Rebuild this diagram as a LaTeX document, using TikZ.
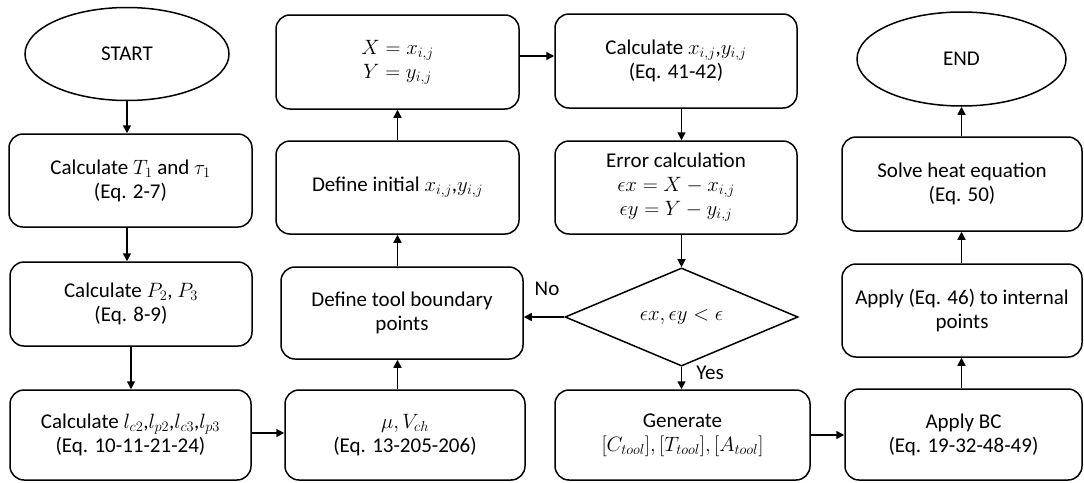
\documentclass[tikz,border=0pt]{standalone}
\usepackage{fontspec}
\setmainfont{Carlito}
\usetikzlibrary{shapes.geometric,arrows.meta}
\begin{document}
\begin{tikzpicture}[x=1pt,y=-1pt,
  base/.style={draw,line width=1.5pt,align=center,inner sep=0pt,font=\fontsize{21}{24}\selectfont},
  box/.style={base,rectangle,rounded corners=14pt},
  oval/.style={base,ellipse},
  dec/.style={base,diamond},
  lbl/.style={font=\fontsize{21}{24}\selectfont,inner sep=0pt},
  arr/.style={line width=1.5pt,-{Triangle[length=8pt,width=8pt]}}
]
\useasboundingbox (0,0) rectangle (1084,482);
% column 1
\node[oval,minimum width=204pt,minimum height=93pt] (start) at (127,54) {START};
\node[box,minimum width=243pt,minimum height=93pt] (c1) at (130.5,180.5) {Calculate $T_1$ and $\tau_1$\\(Eq. 2-7)};
\node[box,minimum width=242pt,minimum height=84pt] (c2) at (131,304) {Calculate $P_2$, $P_3$\\(Eq. 8-9)};
\node[box,minimum width=241pt,minimum height=90pt] (c3) at (130.5,435) {Calculate $l_{c2}$,$l_{p2}$,$l_{c3}$,$l_{p3}$\\(Eq. 10-11-21-24)};
% column 2
\node[box,minimum width=243pt,minimum height=94pt] (xy) at (397.5,62) {$X = x_{i,j}$\\$Y = y_{i,j}$};
\node[box,minimum width=243pt,minimum height=93pt] (init) at (397.5,187.5) {Define initial $x_{i,j}$,$y_{i,j}$};
\node[box,minimum width=242pt,minimum height=92pt] (tool) at (402,313) {Define tool boundary\\points};
\node[box,minimum width=240pt,minimum height=90pt] (mu) at (405,435) {$\mu,V_{ch}$\\(Eq. 13-205-206)};
% column 3
\node[box,minimum width=242pt,minimum height=94pt] (calc) at (676,61) {Calculate $x_{i,j}$,$y_{i,j}$\\(Eq. 41-42)};
\node[box,minimum width=242pt,minimum height=93pt] (err) at (676,187.5) {Error calculation\\$\epsilon x = X - x_{i,j}$\\$\epsilon y = Y - y_{i,j}$};
\node[dec,minimum width=233pt,minimum height=90pt] (dia) at (681.5,317) {$\epsilon x,\epsilon y < \epsilon$};
\node[box,minimum width=255pt,minimum height=90pt] (gen) at (682.5,435) {Generate\\$[C_{tool}],[T_{tool}],[A_{tool}]$};
% column 4
\node[oval,minimum width=209pt,minimum height=94pt] (end) at (961.5,59) {END};
\node[box,minimum width=240pt,minimum height=94pt] (solve) at (962,184) {Solve heat equation\\(Eq. 50)};
\node[box,minimum width=240pt,minimum height=93pt] (app) at (962,310.5) {Apply (Eq. 46) to internal\\points};
\node[box,minimum width=237pt,minimum height=91pt] (bc) at (963.5,434.5) {Apply BC\\(Eq. 19-32-48-49)};
% labels
\node[lbl] (no) at (547,289) {No};
\node[lbl] (yes) at (710,373) {Yes};
% connectors
\draw[arr] (start.south) -- (start.south |- c1.north);
\draw[arr] (c1.south -| start) -- (c2.north -| start);
\draw[arr] (c2.south) -- (c2.south |- c3.north);
\draw[arr] (c3.east |- 0,433) -- (mu.west |- 0,433);
\draw[arr] (mu.north -| xy) -- (tool.south -| xy);
\draw[arr] (tool.north -| xy) -- (init.south -| xy);
\draw[arr] (init.north -| xy) -- (xy.south);
\draw[arr] (xy.east |- 0,56) -- (calc.west |- 0,56);
\draw[arr] (calc.south -| dia) -- (err.north -| dia);
\draw[arr] (err.south -| dia) -- (dia.north);
\draw[arr] (dia.west) -- (tool.east |- dia.west);
\draw[arr] (dia.south) -- (gen.north -| dia);
\draw[arr] (gen.east |- 0,435) -- (bc.west |- 0,435);
\draw[arr] (bc.north -| end) -- (app.south -| end);
\draw[arr] (app.north -| end) -- (solve.south -| end);
\draw[arr] (solve.north -| end) -- (end.south);
\end{tikzpicture}
\end{document}
